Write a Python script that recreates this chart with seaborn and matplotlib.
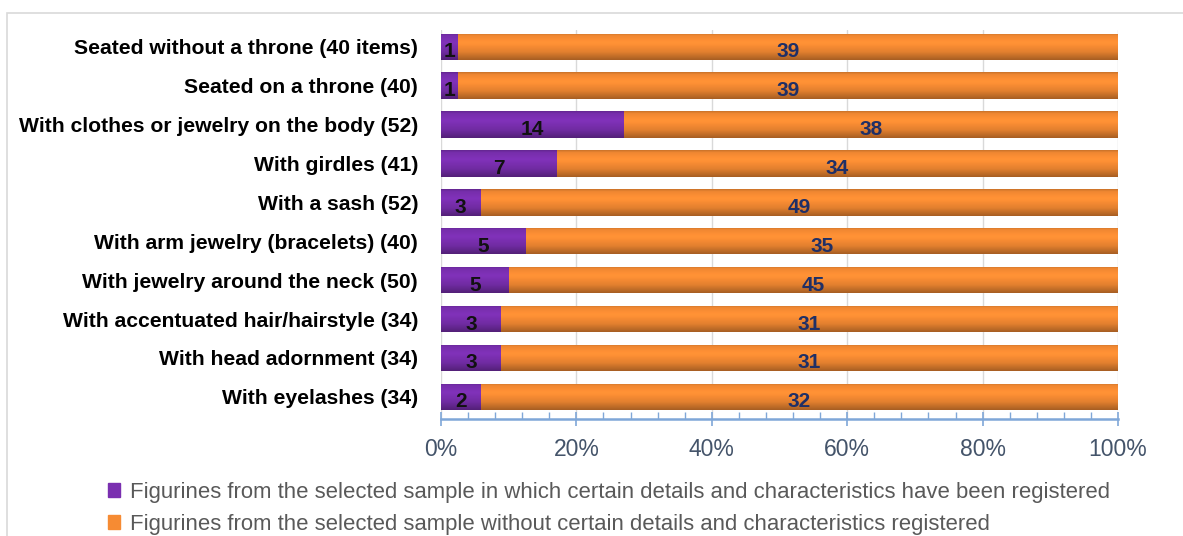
import numpy as np
import pandas as pd
import matplotlib.pyplot as plt
import matplotlib.colors as mcolors
import seaborn as sns
from matplotlib.patches import Rectangle
from matplotlib.ticker import MultipleLocator, FuncFormatter

# dados
categorias = [
    'Seated without a throne (40 items)',
    'Seated on a throne (40)',
    'With clothes or jewelry on the body (52)',
    'With girdles (41)',
    'With a sash (52)',
    'With arm jewelry (bracelets) (40)',
    'With jewelry around the neck (50)',
    'With accentuated hair/hairstyle (34)',
    'With head adornment (34)',
    'With eyelashes (34)',
]
com_detalhes = [1, 1, 14, 7, 3, 5, 5, 3, 3, 2]
sem_detalhes = [39, 39, 38, 34, 49, 35, 45, 31, 31, 32]
legenda = [
    'Figurines from the selected sample in which certain details and characteristics have been registered',
    'Figurines from the selected sample without certain details and characteristics registered',
]

roxo = '#7A2FB0'
laranja = '#F68B33'
fonte = ['Liberation Sans', 'DejaVu Sans']

df = pd.DataFrame({'cat': categorias, 'com': com_detalhes, 'sem': sem_detalhes})
df['total'] = df['com'] + df['sem']
df['pct_com'] = df['com'] / df['total'] * 100
df['pct_total'] = 100.0

sns.set_theme(style='white')
plt.rcParams['font.family'] = fonte

fig = plt.figure(figsize=(11.83, 5.36), dpi=100)
ax = fig.add_axes([441 / 1183, 117 / 536, 677 / 1183, 389 / 536])

# moldura cinza
fig.patches.append(Rectangle((7 / 1183, -0.1), 1.2, (536 - 13) / 536 + 0.1,
                             transform=fig.transFigure, fill=False,
                             edgecolor='#D9D9D9', linewidth=1.2))

sns.barplot(data=df, x='pct_total', y='cat', orient='h', color=laranja,
            width=0.68, linewidth=0, ax=ax, saturation=1)
sns.barplot(data=df, x='pct_com', y='cat', orient='h', color=roxo,
            width=0.68, linewidth=0, ax=ax, saturation=1)

# efeito de cilindro (gradiente vertical)
t = np.linspace(0, 1, 60)
sombra = np.interp(t, [0, 0.08, 0.35, 0.7, 1.0], [0.82, 0.97, 1.06, 0.92, 0.68])
for p in list(ax.patches):
    base = np.array(mcolors.to_rgb(p.get_facecolor()))
    img = np.clip(base[None, :] * sombra[:, None], 0, 1)[:, None, :]
    x0, y0, w, h = p.get_x(), p.get_y(), p.get_width(), p.get_height()
    im = ax.imshow(img, extent=[x0, x0 + w, y0 + h, y0], aspect='auto',
                   origin='upper', zorder=p.get_zorder() + 0.1, interpolation='bilinear')
    im.set_clip_path(p)

# rótulos de valor
for i, row in df.iterrows():
    ax.text(row['pct_com'] / 2, i + 0.13, str(row['com']), ha='center', va='center',
            fontsize=15, fontweight='bold', color='#111111', zorder=5)
    ax.text(row['pct_com'] + (100 - row['pct_com']) / 2, i + 0.13, str(row['sem']),
            ha='center', va='center', fontsize=15, fontweight='bold', color='#1F2F66',
            zorder=5)

ax.set_xlim(0, 100)
ax.set_ylim(9.57, -0.43)
ax.set_xlabel('')
ax.set_ylabel('')

ax.xaxis.set_major_locator(MultipleLocator(20))
ax.xaxis.set_minor_locator(MultipleLocator(4))
ax.xaxis.set_major_formatter(FuncFormatter(lambda v, p: f'{v:.0f}%'))
ax.grid(True, axis='x', color='#D9D9D9', linewidth=1)
ax.set_axisbelow(True)

for s in ['top', 'right', 'left']:
    ax.spines[s].set_visible(False)
ax.spines['bottom'].set_color('#7FA7D8')
ax.spines['bottom'].set_linewidth(1.8)

ax.tick_params(axis='x', which='major', direction='inout', length=10, width=1.2,
               color='#7FA7D8', labelsize=16.5, labelcolor='#44546A', pad=9, bottom=True)
ax.tick_params(axis='x', which='minor', direction='in', length=5, width=1,
               color='#7FA7D8', bottom=True)
ax.tick_params(axis='y', length=0, pad=16.5)
for lbl in ax.get_yticklabels():
    lbl.set_fontweight('bold')
    lbl.set_fontsize(15.2)
    lbl.set_color('black')

# legenda
handles = [Rectangle((0, 0), 1, 1, color=roxo), Rectangle((0, 0), 1, 1, color=laranja)]
fig.legend(handles, legenda, loc='upper left', bbox_to_anchor=(99 / 1183, 1 - 473 / 536),
           frameon=False, fontsize=15.9, labelcolor='#595959', handlelength=0.55,
           handleheight=0.55, handletextpad=0.45, labelspacing=0.5, borderaxespad=0)

plt.savefig('out.png', dpi=100)
